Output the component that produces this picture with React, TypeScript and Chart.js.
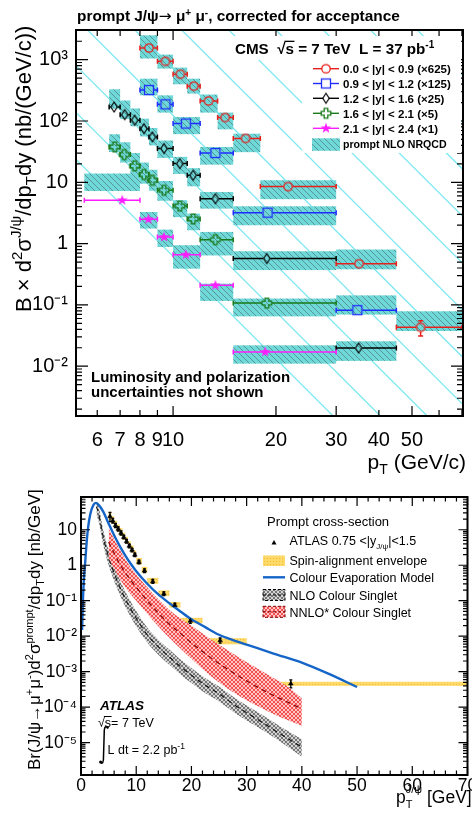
import React, { useEffect, useRef } from 'react';
import { Chart, registerables } from 'chart.js';

Chart.register(...registerables);

const FONT = '"Liberation Sans", Arial, Helvetica, sans-serif';

// ================= TOP PANEL (CMS) =================
const cmsXTickValues = [6, 7, 8, 9, 10, 20, 30, 40, 50];
const cmsXMajorTicks = [10, 20, 30, 50];
const cmsXMinorTicks = [6, 7, 8, 9, 40, 60, 70];
const cmsYTickValues = [0.01, 0.1, 1, 10, 100, 1000];
const cmsYTickLabels = ['10⁻²', '10⁻¹', '1', '10', '10²', '10³'];
const cmsXMin = 5.2;
const cmsXMax = 70.5;
const cmsYMin = 0.00154;
const cmsYMax = 3050;

// 0.0 < |y| < 0.9 (x625)
const r1Label = '0.0 < |y| < 0.9 (×625)';
const r1BinLo = [8, 9, 10, 11, 12, 13.5, 15, 18, 30, 45];
const r1BinHi = [9, 10, 11, 12, 13.5, 15, 18, 30, 45, 70];
const r1Pt = [8.5, 9.5, 10.5, 11.5, 12.7, 14.2, 16.3, 21.7, 35, 53];
const r1Val = [1550, 940, 580, 370, 212, 114, 52, 8.5, 0.47, 0.043];
const r1ErrLo = [1500, 910, 562, 357, 205, 110, 50, 8.1, 0.44, 0.031];
const r1ErrHi = [1600, 970, 598, 383, 219, 118, 54, 8.9, 0.5, 0.055];
const r1ThLo = [1045, 716, 397, 280, 137, 73, 31, 5.3, 0.38, 0.0375];
const r1ThHi = [2500, 1210, 743, 490, 270, 137, 62, 10.8, 0.8, 0.0787];

// 0.9 < |y| < 1.2 (x125)
const r2Label = '0.9 < |y| < 1.2 (×125)';
const r2BinLo = [8, 9, 10, 12, 15, 30];
const r2BinHi = [9, 10, 12, 15, 30, 45];
const r2Pt = [8.5, 9.5, 10.9, 13.3, 18.9, 34.6];
const r2Val = [320, 187, 91, 30, 3.2, 0.082];
const r2ThLo = [262, 137, 61, 19.4, 1.99, 0.0695];
const r2ThHi = [490, 262, 116, 37.7, 4.06, 0.143];

// 1.2 < |y| < 1.6 (x25)
const r3Label = '1.2 < |y| < 1.6 (×25)';
const r3BinLo = [6.5, 7, 7.5, 8, 8.5, 9, 10, 11, 12, 15, 30];
const r3BinHi = [7, 7.5, 8, 8.5, 9, 10, 11, 12, 15, 30, 45];
const r3Pt = [6.72, 7.22, 7.72, 8.22, 8.7, 9.41, 10.46, 11.45, 13.3, 18.8, 34.9];
const r3Val = [169, 127, 103, 75, 55, 35.5, 20.2, 13.0, 5.4, 0.57, 0.0198];
const r3ThLo = [159, 108, 82, 56, 40, 25, 13.7, 8.6, 3.72, 0.37, 0.0122];
const r3ThHi = [329, 216, 160, 109, 77, 48, 26, 17, 6.95, 0.75, 0.0255];

// 1.6 < |y| < 2.1 (x5)
const r4Label = '1.6 < |y| < 2.1 (×5)';
const r4BinLo = [6.5, 7, 7.5, 8, 8.5, 9, 10, 11, 12, 15];
const r4BinHi = [7, 7.5, 8, 8.5, 9, 10, 11, 12, 15, 30];
const r4Pt = [6.75, 7.2, 7.72, 8.22, 8.7, 9.41, 10.46, 11.45, 13.3, 18.8];
const r4Val = [37.7, 28.3, 18.5, 13.4, 10.8, 7.4, 4.1, 2.52, 1.16, 0.107];
const r4ThLo = [31.2, 21, 13.5, 9.5, 7.3, 5.0, 2.7, 1.65, 0.64, 0.065];
const r4ThHi = [60.7, 45, 30, 21, 16, 10.5, 5.1, 3.08, 1.55, 0.127];

// 2.1 < |y| < 2.4 (x1)
const r5Label = '2.1 < |y| < 2.4 (×1)';
const r5BinLo = [5.5, 8, 9, 10, 12, 15];
const r5BinHi = [8, 9, 10, 12, 15, 30];
const r5Pt = [7.1, 8.47, 9.41, 10.9, 13.3, 18.6];
const r5Val = [5.09, 2.49, 1.28, 0.66, 0.209, 0.0171];
const r5ThLo = [7.2, 1.76, 0.88, 0.39, 0.116, 0.011];
const r5ThHi = [13.9, 3.28, 1.69, 0.94, 0.222, 0.0219];

// light cyan diagonal guide lines: x where each line meets top and bottom of the frame
const guideXAtTop = [2.17, 2.98, 4.09, 5.62, 7.73, 10.6, 14.56, 20.0, 27.5, 37.8, 51.8, 71.2];
const guideXAtBottom = [29.4, 40.4, 55.4, 76.1, 104.6, 143.7, 197.4, 271, 372, 511, 702, 964];

// ================= BOTTOM PANEL (ATLAS) =================
const atlasXTickValues = [0, 10, 20, 30, 40, 50, 60, 70];
const atlasYTickValues = [1e-5, 1e-4, 1e-3, 1e-2, 1e-1, 1, 10];
const atlasYTickLabels = ['10⁻⁵', '10⁻⁴', '10⁻³', '10⁻²', '10⁻¹', '1', '10'];
const atlasYMin = 1.23e-6;
const atlasYMax = 83.6;

const atlasBinLo = [5, 5.5, 6, 6.5, 7, 7.5, 8, 8.5, 9, 9.5, 10, 11, 12, 14, 16, 18, 22, 30];
const atlasBinHi = [5.5, 6, 6.5, 7, 7.5, 8, 8.5, 9, 9.5, 10, 11, 12, 14, 16, 18, 22, 30, 70];
const atlasPt = [5.25, 5.75, 6.25, 6.75, 7.25, 7.75, 8.25, 8.75, 9.25, 9.75, 10.5, 11.5, 13, 15, 17, 19.8, 25.2, 38];
const atlasVal = [23.7, 18, 13.2, 10.5, 8.1, 6.2, 4.7, 3.5, 2.7, 1.97, 1.23, 0.7, 0.35, 0.157, 0.075, 0.027, 0.0076, 0.00046];
const atlasErrLo = [17, 15.5, 11.5, 9.2, 7.1, 5.5, 4.2, 3.1, 2.4, 1.75, 1.1, 0.62, 0.31, 0.14, 0.066, 0.023, 0.0064, 0.00035];
const atlasErrHi = [31, 21, 15, 12, 9.2, 7.0, 5.3, 3.9, 3.0, 2.2, 1.38, 0.79, 0.4, 0.177, 0.085, 0.031, 0.0089, 0.00059];
const spinEnvLo = [19, 14.5, 11, 8.8, 6.8, 5.2, 4, 3, 2.3, 1.7, 1.05, 0.6, 0.3, 0.135, 0.064, 0.023, 0.0059, 0.0004];
const spinEnvHi = [32, 24, 18, 14, 11, 8.3, 6.3, 4.7, 3.6, 2.6, 1.6, 0.9, 0.44, 0.195, 0.092, 0.033, 0.0088, 0.00052];

const cemPt = [0.2, 0.35, 0.5, 0.7, 1.0, 1.3, 1.7, 2.2, 2.7, 3.2, 4, 5, 6, 7, 8, 9, 10, 12, 14, 16, 18, 20, 22.5, 25, 27.5, 30, 35, 40, 45, 50];
const cemVal = [0.015, 0.1, 0.35, 0.9, 4, 12, 28, 48, 57, 50, 33, 15, 7, 3.5, 1.9, 1.1, 0.68, 0.3, 0.15, 0.085, 0.05, 0.03, 0.018, 0.011, 0.0078, 0.0058, 0.0032, 0.0018, 0.00085, 0.00037];

const nloPt = [2.8, 3.2, 4, 5, 6, 7, 8, 10, 12, 14, 16, 18, 20, 22, 25, 28, 30, 33, 36, 40];
const nloMid = [45, 28, 6.5, 1.7, 0.6, 0.25, 0.115, 0.032, 0.011, 0.005, 0.0026, 0.0014, 0.0008, 0.00047, 0.00024, 0.00011, 0.00007, 0.000036, 0.000018, 0.0000075];
const nloLo = [27, 17, 3.9, 1.0, 0.36, 0.15, 0.069, 0.019, 0.0066, 0.003, 0.00156, 0.00084, 0.00048, 0.00028, 0.000144, 0.000066, 0.000042, 0.000022, 0.000011, 0.000004];
const nloHi = [60, 45, 10.4, 2.7, 0.96, 0.4, 0.184, 0.051, 0.0176, 0.008, 0.0042, 0.0022, 0.00128, 0.00075, 0.00038, 0.000176, 0.000112, 0.000058, 0.000029, 0.0000125];

const nnloPt = [5, 6, 7, 8, 10, 12, 14, 16, 18, 20, 22, 25, 28, 31, 34, 37, 40];
const nnloMid = [4.5, 2.2, 1.1, 0.62, 0.24, 0.1, 0.045, 0.022, 0.012, 0.0065, 0.0037, 0.0017, 0.00085, 0.00045, 0.00025, 0.00015, 0.00009];
const nnloLo = [1.6, 0.8, 0.42, 0.24, 0.1, 0.043, 0.019, 0.009, 0.0045, 0.0023, 0.0012, 0.0005, 0.00024, 0.00013, 0.000075, 0.000046, 0.00003];
const nnloHi = [11, 5.5, 2.8, 1.5, 0.55, 0.24, 0.11, 0.055, 0.032, 0.02, 0.012, 0.0058, 0.0029, 0.0015, 0.0008, 0.00042, 0.00018];

// ================= helpers =================
type Seg = { t: string; s: number; dy?: number; b?: boolean; i?: boolean; over?: boolean; f?: string; back?: boolean };

function fontOf(seg: Seg) {
  return `${seg.i ? 'italic ' : ''}${seg.b ? 'bold ' : ''}${seg.s}px ${seg.f || FONT}`;
}

function drawRich(ctx: CanvasRenderingContext2D, segs: Seg[], x: number, y: number, align = 'left') {
  let total = 0;
  let prevW = 0;
  for (const s of segs) {
    ctx.font = fontOf(s);
    const w = ctx.measureText(s.t).width;
    if (s.back) total += Math.max(0, w - prevW);
    else total += w;
    prevW = w;
  }
  let cx = align === 'right' ? x - total : align === 'center' ? x - total / 2 : x;
  ctx.textAlign = 'left';
  ctx.textBaseline = 'alphabetic';
  let prevStart = cx;
  let prevWidth = 0;
  for (const s of segs) {
    ctx.font = fontOf(s);
    const w = ctx.measureText(s.t).width;
    let sx = cx;
    if (s.back) sx = prevStart;
    ctx.fillText(s.t, sx, y + (s.dy || 0));
    if (s.over) {
      ctx.save();
      ctx.strokeStyle = '#000';
      ctx.lineWidth = s.b ? 1.3 : 1;
      const top = y + (s.dy || 0) - s.s * 0.8;
      ctx.beginPath();
      ctx.moveTo(sx - 1, top);
      ctx.lineTo(sx + w + 0.5, top);
      ctx.stroke();
      ctx.restore();
    }
    if (s.back) {
      cx = Math.max(prevStart + prevWidth, sx + w);
    } else {
      prevStart = sx;
      prevWidth = w;
      cx = sx + w;
    }
  }
}

function makePattern(size: number, draw: (g: CanvasRenderingContext2D, s: number) => void) {
  const c = document.createElement('canvas');
  c.width = size;
  c.height = size;
  const g = c.getContext('2d')!;
  draw(g, size);
  return g.createPattern(c, 'repeat')!;
}

function markerImage(kind: string, color: string) {
  const s = 14;
  const c = document.createElement('canvas');
  c.width = s;
  c.height = s;
  const g = c.getContext('2d')!;
  g.strokeStyle = color;
  g.fillStyle = color;
  g.lineWidth = 1.3;
  const m = s / 2;
  if (kind === 'circle') {
    g.beginPath();
    g.arc(m, m, 4.2, 0, Math.PI * 2);
    g.stroke();
  } else if (kind === 'square') {
    g.strokeRect(m - 4.5, m - 4.5, 9, 9);
  } else if (kind === 'diamond') {
    g.lineWidth = 1.2;
    g.beginPath();
    g.moveTo(m, m - 5);
    g.lineTo(m + 3.2, m);
    g.lineTo(m, m + 5);
    g.lineTo(m - 3.2, m);
    g.closePath();
    g.stroke();
  } else if (kind === 'cross') {
    const a = 1.8;
    const b = 4.8;
    g.beginPath();
    g.moveTo(m - a, m - b);
    g.lineTo(m + a, m - b);
    g.lineTo(m + a, m - a);
    g.lineTo(m + b, m - a);
    g.lineTo(m + b, m + a);
    g.lineTo(m + a, m + a);
    g.lineTo(m + a, m + b);
    g.lineTo(m - a, m + b);
    g.lineTo(m - a, m + a);
    g.lineTo(m - b, m + a);
    g.lineTo(m - b, m - a);
    g.lineTo(m - a, m - a);
    g.closePath();
    g.stroke();
  } else if (kind === 'star') {
    g.beginPath();
    for (let i = 0; i < 10; i++) {
      const r = i % 2 === 0 ? 5.6 : 2.3;
      const ang = -Math.PI / 2 + (i * Math.PI) / 5;
      const px = m + r * Math.cos(ang);
      const py = m + r * Math.sin(ang);
      if (i === 0) g.moveTo(px, py);
      else g.lineTo(px, py);
    }
    g.closePath();
    g.fill();
  }
  return c;
}

function drawFrameTicks(ctx: CanvasRenderingContext2D, a: any, xs: any, ys: any, xMaj: number[], xMin: number[], yMaj: number[], yMin: number[], L: any) {
  ctx.save();
  ctx.strokeStyle = '#000';
  ctx.lineWidth = 1.2;
  const vline = (v: number, len: number) => {
    const p = xs.getPixelForValue(v);
    if (p < a.left - 0.5 || p > a.right + 0.5) return;
    ctx.beginPath();
    ctx.moveTo(p, a.bottom);
    ctx.lineTo(p, a.bottom - len);
    ctx.moveTo(p, a.top);
    ctx.lineTo(p, a.top + len);
    ctx.stroke();
  };
  const hline = (v: number, len: number) => {
    const p = ys.getPixelForValue(v);
    if (p < a.top - 0.5 || p > a.bottom + 0.5) return;
    ctx.beginPath();
    ctx.moveTo(a.left, p);
    ctx.lineTo(a.left + len, p);
    ctx.moveTo(a.right, p);
    ctx.lineTo(a.right - len, p);
    ctx.stroke();
  };
  xMaj.forEach((v) => vline(v, L.xMaj));
  xMin.forEach((v) => vline(v, L.xMin));
  yMaj.forEach((v) => hline(v, L.yMaj));
  yMin.forEach((v) => hline(v, L.yMin));
  ctx.lineWidth = 2;
  ctx.strokeRect(a.left, a.top, a.right - a.left, a.bottom - a.top);
  ctx.restore();
}

function logMinorTicks(lo: number, hi: number) {
  const out: number[] = [];
  for (let k = -8; k <= 4; k++) {
    for (let m = 2; m <= 9; m++) {
      const v = m * Math.pow(10, k);
      if (v > lo && v < hi) out.push(v);
    }
  }
  return out;
}

export default function App() {
  const topRef = useRef<HTMLCanvasElement>(null);
  const botRef = useRef<HTMLCanvasElement>(null);

  useEffect(() => {
    document.body.style.margin = '0';
    const charts: any[] = [];

    const cyanPat = makePattern(6, (g, s) => {
      g.fillStyle = '#6fd9d9';
      g.fillRect(0, 0, s, s);
      g.strokeStyle = 'rgba(70,105,105,0.6)';
      g.lineWidth = 1;
      for (const o of [-s, 0, s]) {
        g.beginPath();
        g.moveTo(o, 0);
        g.lineTo(o + s, s);
        g.stroke();
      }
    });
    const greyPat = makePattern(4, (g, s) => {
      g.fillStyle = '#d4d4d4';
      g.fillRect(0, 0, s, s);
      g.strokeStyle = '#6a6a6a';
      g.lineWidth = 0.9;
      g.beginPath();
      g.moveTo(0, 0);
      g.lineTo(s, s);
      g.moveTo(s, 0);
      g.lineTo(0, s);
      g.stroke();
    });
    const redPat = makePattern(4, (g, s) => {
      g.fillStyle = '#ffc4c4';
      g.fillRect(0, 0, s, s);
      g.strokeStyle = '#f04444';
      g.lineWidth = 0.9;
      g.beginPath();
      g.moveTo(0, 0);
      g.lineTo(s, s);
      g.moveTo(s, 0);
      g.lineTo(0, s);
      g.stroke();
    });
    const yellowPat = makePattern(3, (g, s) => {
      g.fillStyle = '#ffda6a';
      g.fillRect(0, 0, s, s);
      g.fillStyle = '#f2bf30';
      g.fillRect(0, 0, 1, 1);
    });

    const cmsSeries = [
      { label: r1Label, color: '#e8201c', img: markerImage('circle', '#e8201c'), gap: 4.5, lo: r1BinLo, hi: r1BinHi, x: r1Pt, y: r1Val, eLo: r1ErrLo, eHi: r1ErrHi, thLo: r1ThLo, thHi: r1ThHi },
      { label: r2Label, color: '#1f2cff', img: markerImage('square', '#1f2cff'), gap: 5, lo: r2BinLo, hi: r2BinHi, x: r2Pt, y: r2Val, eLo: null, eHi: null, thLo: r2ThLo, thHi: r2ThHi },
      { label: r3Label, color: '#000000', img: markerImage('diamond', '#000000'), gap: 3.5, lo: r3BinLo, hi: r3BinHi, x: r3Pt, y: r3Val, eLo: null, eHi: null, thLo: r3ThLo, thHi: r3ThHi },
      { label: r4Label, color: '#197a19', img: markerImage('cross', '#197a19'), gap: 5, lo: r4BinLo, hi: r4BinHi, x: r4Pt, y: r4Val, eLo: null, eHi: null, thLo: r4ThLo, thHi: r4ThHi },
      { label: r5Label, color: '#ff1cff', img: markerImage('star', '#ff1cff'), gap: 0, lo: r5BinLo, hi: r5BinHi, x: r5Pt, y: r5Val, eLo: null, eHi: null, thLo: r5ThLo, thHi: r5ThHi },
    ];

    // ---------- top chart ----------
    const cmsPlugin = {
      id: 'cmsDeco',
      beforeDatasetsDraw(chart: any) {
        const { ctx, chartArea: a } = chart;
        const xs = chart.scales.x;
        const ys = chart.scales.y;
        const X = (v: number) => xs.getPixelForValue(v);
        const Y = (v: number) => ys.getPixelForValue(v);
        ctx.save();
        ctx.beginPath();
        ctx.rect(a.left, a.top, a.right - a.left, a.bottom - a.top);
        ctx.clip();
        ctx.strokeStyle = 'rgb(125,232,242)';
        ctx.lineWidth = 1.3;
        guideXAtTop.forEach((xt, i) => {
          ctx.beginPath();
          ctx.moveTo(X(xt), Y(cmsYMax));
          ctx.lineTo(X(guideXAtBottom[i]), Y(cmsYMin));
          ctx.stroke();
        });
        ctx.fillStyle = cyanPat;
        for (const s of cmsSeries) {
          s.lo.forEach((lo, i) => {
            const x0 = X(lo);
            const x1 = X(s.hi[i]);
            const y0 = Y(s.thHi[i]);
            const y1 = Y(s.thLo[i]);
            ctx.fillRect(x0, y0, x1 - x0, y1 - y0);
          });
        }
        for (const s of cmsSeries) {
          ctx.strokeStyle = s.color;
          ctx.lineWidth = 1.5;
          s.lo.forEach((lo, i) => {
            const px = X(s.x[i]);
            const py = Y(s.y[i]);
            const xl = X(lo);
            const xr = X(s.hi[i]);
            ctx.beginPath();
            ctx.moveTo(xl, py);
            ctx.lineTo(px - s.gap, py);
            ctx.moveTo(px + s.gap, py);
            ctx.lineTo(xr, py);
            ctx.moveTo(xl, py - 2.5);
            ctx.lineTo(xl, py + 2.5);
            ctx.moveTo(xr, py - 2.5);
            ctx.lineTo(xr, py + 2.5);
            ctx.stroke();
            if (s.eLo && s.eHi) {
              const yl = Y(s.eLo[i]);
              const yh = Y(s.eHi[i]);
              ctx.beginPath();
              if (yl > py + s.gap + 1) {
                ctx.moveTo(px, py + s.gap);
                ctx.lineTo(px, yl);
                ctx.moveTo(px - 2.5, yl);
                ctx.lineTo(px + 2.5, yl);
              }
              if (yh < py - s.gap - 1) {
                ctx.moveTo(px, py - s.gap);
                ctx.lineTo(px, yh);
                ctx.moveTo(px - 2.5, yh);
                ctx.lineTo(px + 2.5, yh);
              }
              ctx.stroke();
            }
          });
        }
        ctx.restore();
      },
      afterDraw(chart: any) {
        const { ctx, chartArea: a } = chart;
        const xs = chart.scales.x;
        const ys = chart.scales.y;
        drawFrameTicks(ctx, a, xs, ys, cmsXMajorTicks, cmsXMinorTicks, cmsYTickValues, logMinorTicks(cmsYMin, cmsYMax), { xMaj: 10, xMin: 6, yMaj: 12, yMin: 6 });
        ctx.save();
        // legend background
        ctx.fillStyle = '#fff';
        ctx.fillRect(232, 36, 229, 24);
        ctx.fillRect(302, 60, 159, 93);
        ctx.fillStyle = '#000';
        drawRich(ctx, [
          { t: 'CMS  ', s: 15.2, b: true },
          { t: '√', s: 15.2, b: true },
          { t: 's', s: 15.2, b: true, over: true },
          { t: ' = 7 TeV  L = 37 pb', s: 15.2, b: true },
          { t: '-1', s: 10, b: true, dy: -6 },
        ], 235, 53.5);
        const rowY = [68.7, 83.5, 98.3, 113.3, 128.3];
        cmsSeries.forEach((s, i) => {
          const cy = rowY[i];
          ctx.strokeStyle = s.color;
          ctx.lineWidth = 1.4;
          ctx.beginPath();
          ctx.moveTo(313, cy);
          ctx.lineTo(339, cy);
          ctx.stroke();
          if (s.gap > 0) {
            ctx.fillStyle = '#fff';
            ctx.fillRect(326 - s.gap + 0.5, cy - 3, 2 * s.gap - 1, 6);
          }
          ctx.drawImage(s.img, 326 - 7, cy - 7);
          ctx.fillStyle = '#000';
          ctx.font = `bold 11.5px ${FONT}`;
          ctx.textAlign = 'left';
          ctx.textBaseline = 'alphabetic';
          ctx.fillText(s.label, 343, cy + 4.2);
        });
        ctx.fillStyle = cyanPat;
        ctx.fillRect(312, 138.3, 28, 12.5);
        ctx.fillStyle = '#000';
        ctx.font = `bold 10.6px ${FONT}`;
        ctx.fillText('prompt NLO NRQCD', 343, 148.3);
        // title
        drawRich(ctx, [
          { t: 'prompt J/ψ', s: 15.4, b: true },
          { t: '→', s: 15.4, f: '"DejaVu Sans", sans-serif' },
          { t: ' μ', s: 15.4, b: true },
          { t: '+', s: 10, b: true, dy: -5 },
          { t: ' μ', s: 15.4, b: true },
          { t: '-', s: 10, b: true, dy: -5 },
          { t: ', corrected for acceptance', s: 15.4, b: true },
        ], 77, 20.5);
        // annotation
        ctx.font = `bold 15px ${FONT}`;
        ctx.fillText('Luminosity and polarization', 91, 382);
        ctx.fillText('uncertainties not shown', 91, 396.5);
        // x title
        drawRich(ctx, [
          { t: 'p', s: 21 },
          { t: 'T', s: 14, dy: 5 },
          { t: ' (GeV/c)', s: 21 },
        ], 466, 469, 'right');
        // y title
        ctx.translate(31, 312);
        ctx.rotate(-Math.PI / 2);
        drawRich(ctx, [
          { t: 'B × d', s: 22 },
          { t: '2', s: 15, dy: -9 },
          { t: 'σ', s: 22 },
          { t: 'J/ψ', s: 15, dy: -10 },
          { t: '/dp', s: 22 },
          { t: 'T', s: 15, dy: 5 },
          { t: 'dy (nb/(GeV/c))', s: 22 },
        ], 0, 0);
        ctx.restore();
      },
    };

    const topChart = new Chart(topRef.current!, {
      type: 'scatter',
      data: {
        datasets: cmsSeries.map((s) => ({
          label: s.label,
          data: s.x.map((x, i) => ({ x, y: s.y[i] })),
          pointStyle: s.img,
          pointRadius: 5,
          pointHoverRadius: 5,
          borderColor: s.color,
          backgroundColor: s.color,
          showLine: false,
        })),
      },
      options: {
        responsive: false,
        animation: false,
        devicePixelRatio: 1,
        events: [],
        layout: { padding: { top: 30, right: 9, left: 0, bottom: 334 } },
        plugins: { legend: { display: false }, tooltip: { enabled: false } },
        scales: {
          x: {
            type: 'logarithmic',
            min: cmsXMin,
            max: cmsXMax,
            grid: { display: false, drawTicks: false },
            border: { display: false },
            afterBuildTicks: (sc: any) => {
              sc.ticks = cmsXTickValues.map((v) => ({ value: v }));
            },
            afterFit: (sc: any) => {
              sc.height = 64;
              sc.paddingLeft = 0;
              sc.paddingRight = 0;
            },
            ticks: {
              autoSkip: false,
              maxRotation: 0,
              minRotation: 0,
              padding: 12,
              color: '#000',
              font: { family: FONT, size: 20 },
              callback: (v: any) => String(v),
            },
          },
          y: {
            type: 'logarithmic',
            min: cmsYMin,
            max: cmsYMax,
            grid: { display: false, drawTicks: false },
            border: { display: false },
            afterBuildTicks: (sc: any) => {
              sc.ticks = cmsYTickValues.map((v) => ({ value: v }));
            },
            afterFit: (sc: any) => {
              sc.width = 76;
              sc.paddingTop = 0;
              sc.paddingBottom = 0;
            },
            ticks: {
              autoSkip: false,
              padding: 8,
              color: '#000',
              font: { family: FONT, size: 20 },
              callback: (v: any) => cmsYTickLabels[cmsYTickValues.indexOf(v)] ?? '',
            },
          },
        },
      } as any,
      plugins: [cmsPlugin],
    });
    charts.push(topChart);

    // ---------- bottom chart ----------
    const atlasPlugin = {
      id: 'atlasDeco',
      beforeDatasetsDraw(chart: any) {
        const { ctx, chartArea: a } = chart;
        const xs = chart.scales.x;
        const ys = chart.scales.y;
        const X = (v: number) => xs.getPixelForValue(v);
        const Y = (v: number) => ys.getPixelForValue(v);
        ctx.save();
        ctx.beginPath();
        ctx.rect(a.left, a.top, a.right - a.left, a.bottom - a.top);
        ctx.clip();
        ctx.fillStyle = yellowPat;
        atlasBinLo.forEach((lo, i) => {
          const x0 = X(lo);
          const x1 = X(atlasBinHi[i]);
          const y0 = Y(spinEnvHi[i]);
          const y1 = Y(spinEnvLo[i]);
          ctx.fillRect(x0, y0, x1 - x0, y1 - y0);
        });
        ctx.strokeStyle = '#000';
        ctx.lineWidth = 1.3;
        atlasPt.forEach((p, i) => {
          const px = X(p);
          const yl = Y(atlasErrLo[i]);
          const yh = Y(atlasErrHi[i]);
          ctx.beginPath();
          ctx.moveTo(px, yl);
          ctx.lineTo(px, yh);
          ctx.moveTo(px - 1.5, yl);
          ctx.lineTo(px + 1.5, yl);
          ctx.moveTo(px - 1.5, yh);
          ctx.lineTo(px + 1.5, yh);
          ctx.stroke();
        });
        ctx.restore();
      },
      afterDraw(chart: any) {
        const { ctx, chartArea: a } = chart;
        const xs = chart.scales.x;
        const ys = chart.scales.y;
        const xMinor: number[] = [];
        for (let v = 2; v < 70; v += 2) if (v % 10 !== 0) xMinor.push(v);
        drawFrameTicks(ctx, a, xs, ys, atlasXTickValues, xMinor, atlasYTickValues, logMinorTicks(atlasYMin, atlasYMax), { xMaj: 9, xMin: 4.5, yMaj: 9, yMin: 4.5 });
        ctx.save();
        ctx.fillStyle = '#000';
        ctx.textAlign = 'left';
        ctx.textBaseline = 'alphabetic';
        ctx.font = `13px ${FONT}`;
        ctx.fillText('Prompt cross-section', 267, 525.5);
        // ATLAS entry
        ctx.beginPath();
        ctx.moveTo(274, 540);
        ctx.lineTo(276.5, 544.5);
        ctx.lineTo(271.5, 544.5);
        ctx.closePath();
        ctx.fill();
        drawRich(ctx, [
          { t: 'ATLAS 0.75 <|y', s: 12.5 },
          { t: 'J/ψ', s: 8, dy: 3.5 },
          { t: '|<1.5', s: 12.5 },
        ], 289.5, 545);
        // spin envelope
        ctx.fillStyle = yellowPat;
        ctx.fillRect(263, 555.5, 22, 10.5);
        ctx.fillStyle = '#000';
        ctx.font = `12.5px ${FONT}`;
        ctx.fillText('Spin-alignment envelope', 289.5, 564.5);
        // CEM
        ctx.strokeStyle = '#1565c8';
        ctx.lineWidth = 2.4;
        ctx.beginPath();
        ctx.moveTo(263, 577.3);
        ctx.lineTo(285, 577.3);
        ctx.stroke();
        ctx.fillText('Colour Evaporation Model', 289.5, 581.8);
        // NLO
        ctx.fillStyle = greyPat;
        ctx.fillRect(263, 589.5, 22, 11);
        ctx.strokeStyle = '#000';
        ctx.lineWidth = 1;
        ctx.setLineDash([3, 2]);
        ctx.strokeRect(263, 589.5, 22, 11);
        ctx.beginPath();
        ctx.moveTo(263, 595);
        ctx.lineTo(285, 595);
        ctx.stroke();
        ctx.fillStyle = redPat;
        ctx.fillRect(263, 606.3, 22, 11);
        ctx.strokeStyle = '#7a0000';
        ctx.strokeRect(263, 606.3, 22, 11);
        ctx.beginPath();
        ctx.moveTo(263, 611.8);
        ctx.lineTo(285, 611.8);
        ctx.stroke();
        ctx.setLineDash([]);
        ctx.fillStyle = '#000';
        ctx.fillText('NLO Colour Singlet', 289.5, 599.8);
        ctx.fillText('NNLO* Colour Singlet', 289.5, 616.5);
        // ATLAS label
        ctx.font = `italic bold 13.5px ${FONT}`;
        ctx.fillText('ATLAS', 100, 710);
        drawRich(ctx, [
          { t: '√', s: 12.5 },
          { t: 's', s: 12.5, over: true },
          { t: '= 7 TeV', s: 12.5 },
        ], 98, 726.5);
        drawRich(ctx, [
          { t: 'L dt = 2.2 pb', s: 12.5 },
          { t: '-1', s: 8.5, dy: -5.5 },
        ], 107.5, 754);
        ctx.strokeStyle = '#000';
        ctx.lineWidth = 1.5;
        ctx.beginPath();
        ctx.moveTo(108, 728);
        ctx.quadraticCurveTo(105, 724.5, 104.3, 730);
        ctx.lineTo(103.4, 760);
        ctx.quadraticCurveTo(102.6, 765.5, 100, 761.5);
        ctx.stroke();
        ctx.beginPath();
        ctx.arc(100.6, 762, 1.5, 0, Math.PI * 2);
        ctx.arc(107.6, 727.5, 1.2, 0, Math.PI * 2);
        ctx.fill();
        // x title
        drawRich(ctx, [
          { t: 'p', s: 17.5 },
          { t: 'T', s: 11, dy: 5 },
          { t: 'J/ψ', s: 11, dy: -10, back: true },
          { t: ' [GeV]', s: 17.5 },
        ], 396, 803);
        // y title
        ctx.translate(40, 770);
        ctx.rotate(-Math.PI / 2);
        drawRich(ctx, [
          { t: 'Br(J/ψ→μ', s: 17 },
          { t: '+', s: 11, dy: -7 },
          { t: 'μ', s: 17 },
          { t: '-', s: 11, dy: -7 },
          { t: ')d', s: 17 },
          { t: '2', s: 11, dy: -7 },
          { t: 'σ', s: 17 },
          { t: 'prompt', s: 11, dy: -7 },
          { t: '/dp', s: 17 },
          { t: 'T', s: 11, dy: 4 },
          { t: 'dy [nb/GeV]', s: 17 },
        ], 0, 0);
        ctx.restore();
      },
    };

    const pts = (xs: number[], ys: number[]) => xs.map((x, i) => ({ x, y: ys[i] }));
    const clear = 'rgba(0,0,0,0)';
    const botChart = new Chart(botRef.current!, {
      type: 'line',
      data: {
        datasets: [
          { label: 'ATLAS', data: pts(atlasPt, atlasVal), showLine: false, pointStyle: 'triangle', pointRadius: 2.7, pointBackgroundColor: '#000', pointBorderColor: '#000', pointBorderWidth: 0.5, borderColor: '#000', fill: false },
          { label: 'Colour Evaporation Model', data: pts(cemPt, cemVal), borderColor: '#1565c8', borderWidth: 2.4, pointRadius: 0, cubicInterpolationMode: 'monotone', fill: false },
          { label: 'NNLO* centre', data: pts(nnloPt, nnloMid), borderColor: '#8b0000', borderWidth: 1.2, borderDash: [5, 4], pointRadius: 0, cubicInterpolationMode: 'monotone', fill: false },
          { label: 'NNLO* high', data: pts(nnloPt, nnloHi), borderColor: clear, borderWidth: 0.01, pointRadius: 0, backgroundColor: redPat, fill: 4, cubicInterpolationMode: 'monotone' },
          { label: 'NNLO* low', data: pts(nnloPt, nnloLo), borderColor: clear, borderWidth: 0.01, pointRadius: 0, fill: false, cubicInterpolationMode: 'monotone' },
          { label: 'NLO centre', data: pts(nloPt, nloMid), borderColor: '#111', borderWidth: 1.1, borderDash: [5, 4], pointRadius: 0, cubicInterpolationMode: 'monotone', fill: false },
          { label: 'NLO high', data: pts(nloPt, nloHi), borderColor: clear, borderWidth: 0.01, pointRadius: 0, backgroundColor: greyPat, fill: 7, cubicInterpolationMode: 'monotone' },
          { label: 'NLO low', data: pts(nloPt, nloLo), borderColor: clear, borderWidth: 0.01, pointRadius: 0, fill: false, cubicInterpolationMode: 'monotone' },
        ],
      },
      options: {
        responsive: false,
        animation: false,
        devicePixelRatio: 1,
        events: [],
        layout: { padding: { top: 497, right: 3.5, left: 0, bottom: 0 } },
        plugins: { legend: { display: false }, tooltip: { enabled: false } },
        scales: {
          x: {
            type: 'linear',
            min: 0,
            max: 70,
            grid: { display: false, drawTicks: false },
            border: { display: false },
            afterBuildTicks: (sc: any) => {
              sc.ticks = atlasXTickValues.map((v) => ({ value: v }));
            },
            afterFit: (sc: any) => {
              sc.height = 39;
              sc.paddingLeft = 0;
              sc.paddingRight = 0;
            },
            ticks: {
              autoSkip: false,
              maxRotation: 0,
              minRotation: 0,
              padding: 1,
              color: '#000',
              font: { family: FONT, size: 17.5 },
              callback: (v: any) => String(v),
            },
          },
          y: {
            type: 'logarithmic',
            min: atlasYMin,
            max: atlasYMax,
            grid: { display: false, drawTicks: false },
            border: { display: false },
            afterBuildTicks: (sc: any) => {
              sc.ticks = atlasYTickValues.map((v) => ({ value: v }));
            },
            afterFit: (sc: any) => {
              sc.width = 81;
              sc.paddingTop = 0;
              sc.paddingBottom = 0;
            },
            ticks: {
              autoSkip: false,
              padding: 4,
              color: '#000',
              font: { family: FONT, size: 17.5 },
              callback: (v: any) => atlasYTickLabels[atlasYTickValues.indexOf(v)] ?? '',
            },
          },
        },
      } as any,
      plugins: [atlasPlugin],
    });
    charts.push(botChart);

    return () => {
      charts.forEach((c) => c.destroy());
    };
  }, []);

  return (
    <div style={{ position: 'relative', width: 472, height: 814, background: '#fff' }}>
      <canvas ref={topRef} width={472} height={814} style={{ position: 'absolute', left: 0, top: 0 }} />
      <canvas ref={botRef} width={472} height={814} style={{ position: 'absolute', left: 0, top: 0 }} />
    </div>
  );
}
